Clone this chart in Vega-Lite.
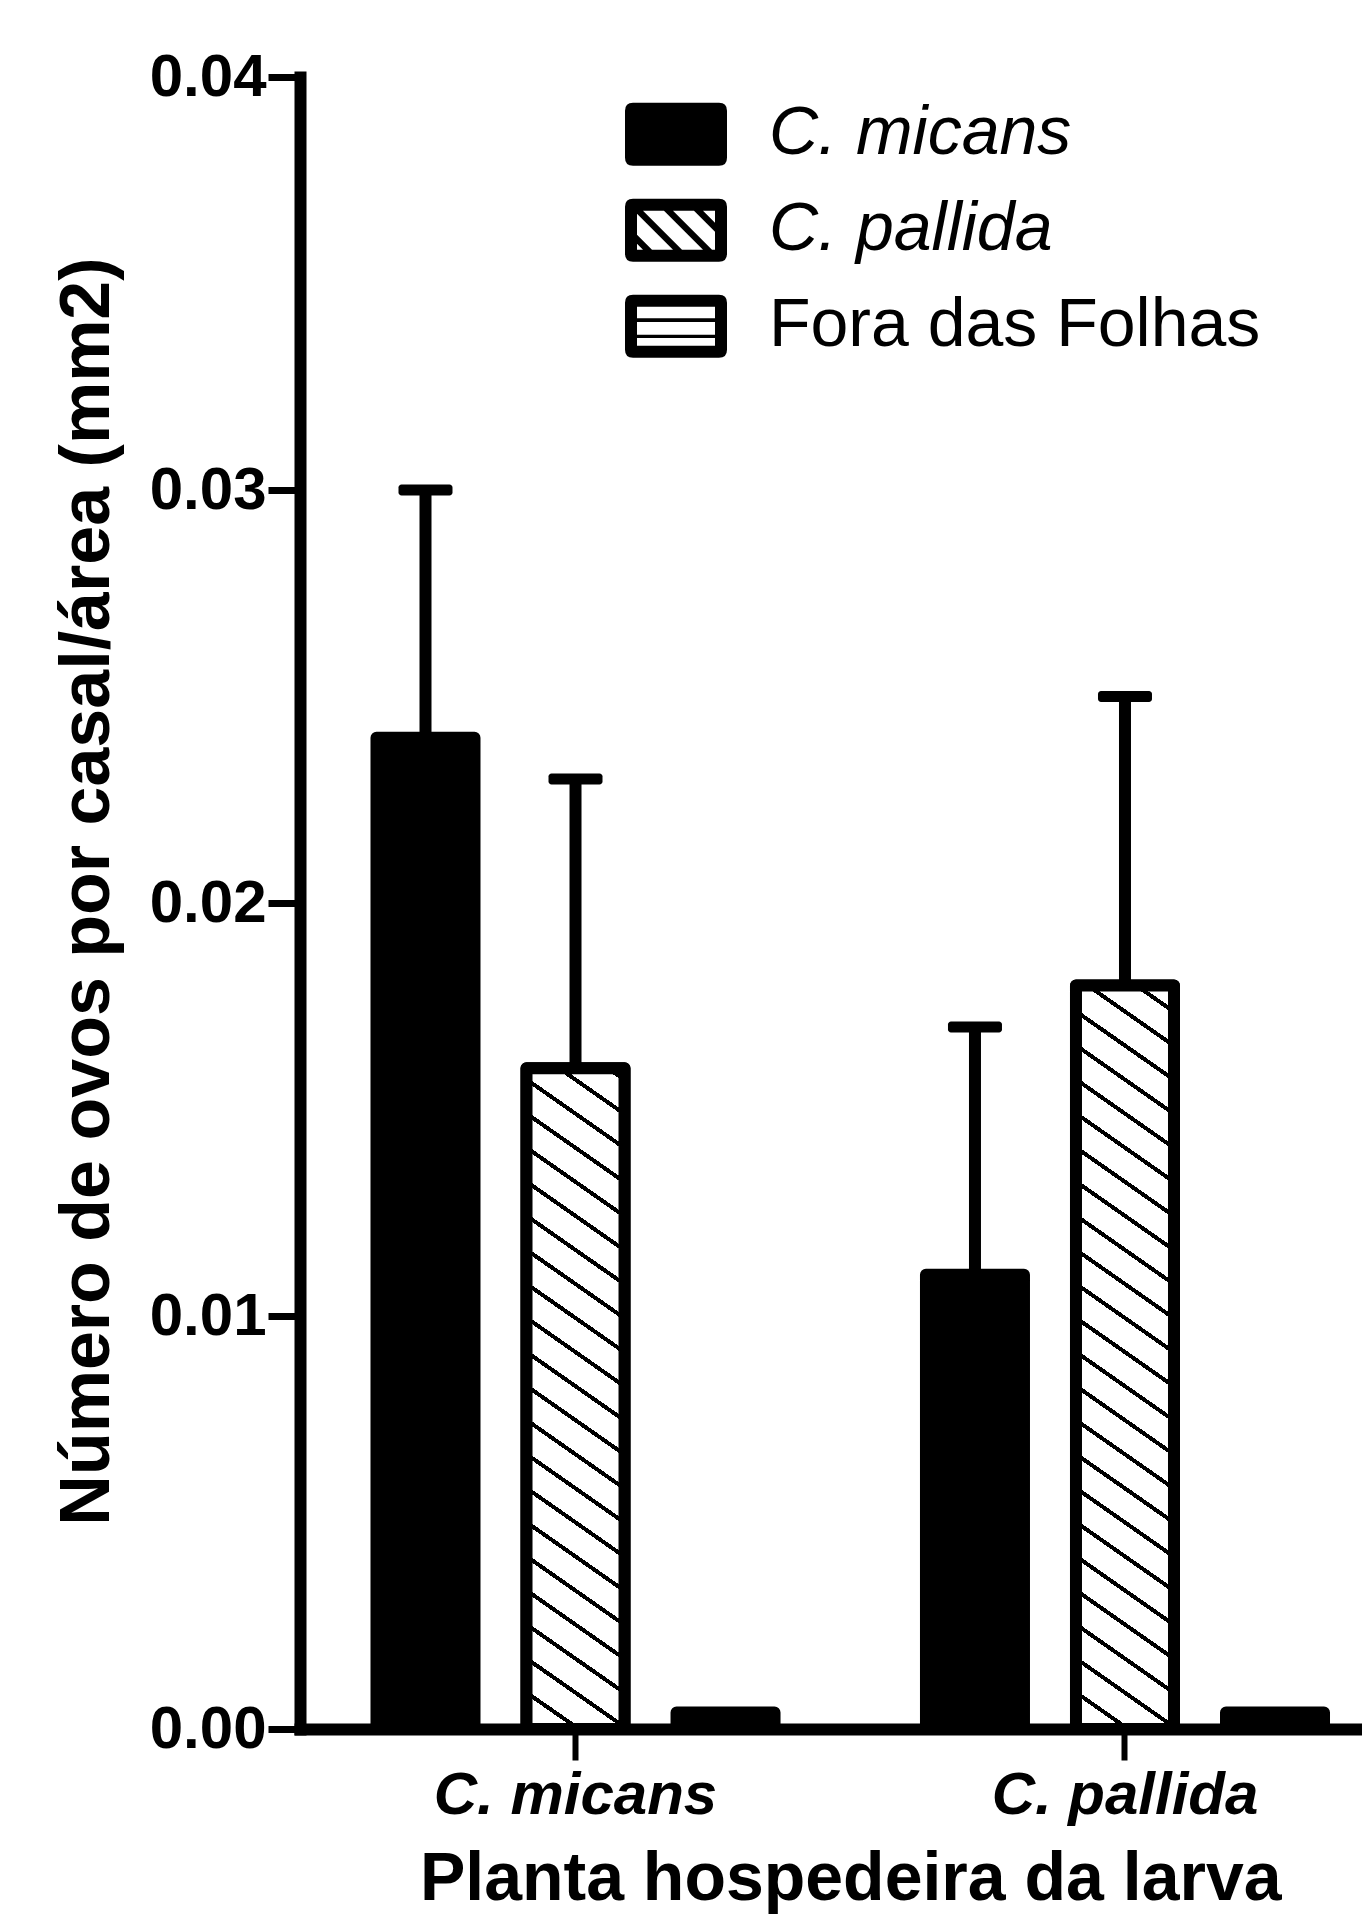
{
  "$schema": "https://vega.github.io/schema/vega-lite/v6.json",
  "width": 1062,
  "height": 1652,
  "autosize": {"type": "none"},
  "padding": {"left": 300, "top": 77, "right": 0, "bottom": 185},
  "background": "white",
  "config": {"view": {"stroke": null}, "font": "Liberation Sans"},
  "data": {
    "values": [
      {"planta": "C. micans", "local": "C. micans", "valor": 0.024, "upper": 0.030},
      {"planta": "C. micans", "local": "C. pallida", "valor": 0.016, "upper": 0.023},
      {"planta": "C. micans", "local": "Fora das Folhas", "valor": 0.0004, "upper": null},
      {"planta": "C. pallida", "local": "C. micans", "valor": 0.011, "upper": 0.017},
      {"planta": "C. pallida", "local": "C. pallida", "valor": 0.018, "upper": 0.025},
      {"planta": "C. pallida", "local": "Fora das Folhas", "valor": 0.0004, "upper": null}
    ]
  },
  "encoding": {
    "x": {
      "field": "planta",
      "type": "nominal",
      "sort": ["C. micans", "C. pallida"],
      "scale": {"range": [0, 1100.5], "paddingInner": 0.181, "paddingOuter": 0.0919},
      "axis": {
        "title": "Planta hospedeira da larva",
        "domainWidth": 12, "domainColor": "black", "domainCap": "square",
        "tickSize": 31, "tickWidth": 6, "tickColor": "black",
        "labelFont": "Liberation Sans", "labelFontSize": 60, "labelFontWeight": "bold", "labelFontStyle": "italic",
        "labelColor": "black", "labelPadding": 6, "labelAngle": 0, "labelLimit": 0,
        "titleFont": "Liberation Sans", "titleFontSize": 68, "titleFontWeight": "bold", "titleColor": "black", "titlePadding": 20
      }
    },
    "xOffset": {
      "field": "local",
      "type": "nominal",
      "sort": ["C. micans", "C. pallida", "Fora das Folhas"],
      "scale": {"paddingInner": 0.3467, "paddingOuter": 0.1733}
    },
    "y": {
      "field": "valor",
      "type": "quantitative",
      "scale": {"domain": [0, 0.04], "nice": false},
      "axis": {
        "title": "Número de ovos por casal/área (mm2)",
        "values": [0, 0.01, 0.02, 0.03, 0.04], "format": ".2f", "grid": false,
        "domainWidth": 12, "domainColor": "black", "domainCap": "square",
        "tickSize": 32, "tickWidth": 7, "tickColor": "black",
        "labelFont": "Liberation Sans", "labelFontSize": 60, "labelFontWeight": "bold", "labelColor": "black", "labelPadding": 2,
        "titleFont": "Liberation Sans", "titleFontSize": 70, "titleFontWeight": "bold", "titleColor": "black", "titlePadding": 26,
        "titleY": 814
      }
    }
  },
  "layer": [
    {
      "mark": {"type": "bar", "stroke": "black", "strokeWidth": 12, "strokeJoin": "round", "fill": "black"}
    },
    {
      "transform": [{"filter": "datum.planta == 'C. micans' && datum.local == 'C. pallida'"}],
      "mark": {
        "type": "bar", "stroke": "black", "strokeWidth": 12, "strokeJoin": "round",
        "fill": {
          "gradient": "linear", "x1": 0, "y1": 1, "x2": 0.127, "y2": -0.2238,
          "stops": [
            {"offset": 0, "color": "black"}, {"offset": 0.006, "color": "black"}, {"offset": 0.006, "color": "white"}, {"offset": 0.0417, "color": "white"},
            {"offset": 0.0417, "color": "black"}, {"offset": 0.0477, "color": "black"}, {"offset": 0.0477, "color": "white"}, {"offset": 0.0833, "color": "white"},
            {"offset": 0.0833, "color": "black"}, {"offset": 0.0893, "color": "black"}, {"offset": 0.0893, "color": "white"}, {"offset": 0.125, "color": "white"},
            {"offset": 0.125, "color": "black"}, {"offset": 0.131, "color": "black"}, {"offset": 0.131, "color": "white"}, {"offset": 0.1667, "color": "white"},
            {"offset": 0.1667, "color": "black"}, {"offset": 0.1727, "color": "black"}, {"offset": 0.1727, "color": "white"}, {"offset": 0.2083, "color": "white"},
            {"offset": 0.2083, "color": "black"}, {"offset": 0.2143, "color": "black"}, {"offset": 0.2143, "color": "white"}, {"offset": 0.25, "color": "white"},
            {"offset": 0.25, "color": "black"}, {"offset": 0.256, "color": "black"}, {"offset": 0.256, "color": "white"}, {"offset": 0.2917, "color": "white"},
            {"offset": 0.2917, "color": "black"}, {"offset": 0.2977, "color": "black"}, {"offset": 0.2977, "color": "white"}, {"offset": 0.3333, "color": "white"},
            {"offset": 0.3333, "color": "black"}, {"offset": 0.3393, "color": "black"}, {"offset": 0.3393, "color": "white"}, {"offset": 0.375, "color": "white"},
            {"offset": 0.375, "color": "black"}, {"offset": 0.381, "color": "black"}, {"offset": 0.381, "color": "white"}, {"offset": 0.4167, "color": "white"},
            {"offset": 0.4167, "color": "black"}, {"offset": 0.4227, "color": "black"}, {"offset": 0.4227, "color": "white"}, {"offset": 0.4583, "color": "white"},
            {"offset": 0.4583, "color": "black"}, {"offset": 0.4643, "color": "black"}, {"offset": 0.4643, "color": "white"}, {"offset": 0.5, "color": "white"},
            {"offset": 0.5, "color": "black"}, {"offset": 0.506, "color": "black"}, {"offset": 0.506, "color": "white"}, {"offset": 0.5417, "color": "white"},
            {"offset": 0.5417, "color": "black"}, {"offset": 0.5477, "color": "black"}, {"offset": 0.5477, "color": "white"}, {"offset": 0.5833, "color": "white"},
            {"offset": 0.5833, "color": "black"}, {"offset": 0.5893, "color": "black"}, {"offset": 0.5893, "color": "white"}, {"offset": 0.625, "color": "white"},
            {"offset": 0.625, "color": "black"}, {"offset": 0.631, "color": "black"}, {"offset": 0.631, "color": "white"}, {"offset": 0.6667, "color": "white"},
            {"offset": 0.6667, "color": "black"}, {"offset": 0.6727, "color": "black"}, {"offset": 0.6727, "color": "white"}, {"offset": 0.7083, "color": "white"},
            {"offset": 0.7083, "color": "black"}, {"offset": 0.7143, "color": "black"}, {"offset": 0.7143, "color": "white"}, {"offset": 0.75, "color": "white"},
            {"offset": 0.75, "color": "black"}, {"offset": 0.756, "color": "black"}, {"offset": 0.756, "color": "white"}, {"offset": 0.7917, "color": "white"},
            {"offset": 0.7917, "color": "black"}, {"offset": 0.7977, "color": "black"}, {"offset": 0.7977, "color": "white"}, {"offset": 0.8333, "color": "white"},
            {"offset": 0.8333, "color": "black"}, {"offset": 0.8393, "color": "black"}, {"offset": 0.8393, "color": "white"}, {"offset": 0.875, "color": "white"},
            {"offset": 0.875, "color": "black"}, {"offset": 0.881, "color": "black"}, {"offset": 0.881, "color": "white"}, {"offset": 0.9167, "color": "white"},
            {"offset": 0.9167, "color": "black"}, {"offset": 0.9227, "color": "black"}, {"offset": 0.9227, "color": "white"}, {"offset": 0.9583, "color": "white"},
            {"offset": 0.9583, "color": "black"}, {"offset": 0.9643, "color": "black"}, {"offset": 0.9643, "color": "white"}, {"offset": 1, "color": "white"}
          ]
        }
      }
    },
    {
      "transform": [{"filter": "datum.planta == 'C. pallida' && datum.local == 'C. pallida'"}],
      "mark": {
        "type": "bar", "stroke": "black", "strokeWidth": 12, "strokeJoin": "round",
        "fill": {
          "gradient": "linear", "x1": 0, "y1": 1, "x2": 0.1006, "y2": -0.0903,
          "stops": [
            {"offset": 0, "color": "black"}, {"offset": 0.006, "color": "black"}, {"offset": 0.006, "color": "white"}, {"offset": 0.0417, "color": "white"},
            {"offset": 0.0417, "color": "black"}, {"offset": 0.0477, "color": "black"}, {"offset": 0.0477, "color": "white"}, {"offset": 0.0833, "color": "white"},
            {"offset": 0.0833, "color": "black"}, {"offset": 0.0893, "color": "black"}, {"offset": 0.0893, "color": "white"}, {"offset": 0.125, "color": "white"},
            {"offset": 0.125, "color": "black"}, {"offset": 0.131, "color": "black"}, {"offset": 0.131, "color": "white"}, {"offset": 0.1667, "color": "white"},
            {"offset": 0.1667, "color": "black"}, {"offset": 0.1727, "color": "black"}, {"offset": 0.1727, "color": "white"}, {"offset": 0.2083, "color": "white"},
            {"offset": 0.2083, "color": "black"}, {"offset": 0.2143, "color": "black"}, {"offset": 0.2143, "color": "white"}, {"offset": 0.25, "color": "white"},
            {"offset": 0.25, "color": "black"}, {"offset": 0.256, "color": "black"}, {"offset": 0.256, "color": "white"}, {"offset": 0.2917, "color": "white"},
            {"offset": 0.2917, "color": "black"}, {"offset": 0.2977, "color": "black"}, {"offset": 0.2977, "color": "white"}, {"offset": 0.3333, "color": "white"},
            {"offset": 0.3333, "color": "black"}, {"offset": 0.3393, "color": "black"}, {"offset": 0.3393, "color": "white"}, {"offset": 0.375, "color": "white"},
            {"offset": 0.375, "color": "black"}, {"offset": 0.381, "color": "black"}, {"offset": 0.381, "color": "white"}, {"offset": 0.4167, "color": "white"},
            {"offset": 0.4167, "color": "black"}, {"offset": 0.4227, "color": "black"}, {"offset": 0.4227, "color": "white"}, {"offset": 0.4583, "color": "white"},
            {"offset": 0.4583, "color": "black"}, {"offset": 0.4643, "color": "black"}, {"offset": 0.4643, "color": "white"}, {"offset": 0.5, "color": "white"},
            {"offset": 0.5, "color": "black"}, {"offset": 0.506, "color": "black"}, {"offset": 0.506, "color": "white"}, {"offset": 0.5417, "color": "white"},
            {"offset": 0.5417, "color": "black"}, {"offset": 0.5477, "color": "black"}, {"offset": 0.5477, "color": "white"}, {"offset": 0.5833, "color": "white"},
            {"offset": 0.5833, "color": "black"}, {"offset": 0.5893, "color": "black"}, {"offset": 0.5893, "color": "white"}, {"offset": 0.625, "color": "white"},
            {"offset": 0.625, "color": "black"}, {"offset": 0.631, "color": "black"}, {"offset": 0.631, "color": "white"}, {"offset": 0.6667, "color": "white"},
            {"offset": 0.6667, "color": "black"}, {"offset": 0.6727, "color": "black"}, {"offset": 0.6727, "color": "white"}, {"offset": 0.7083, "color": "white"},
            {"offset": 0.7083, "color": "black"}, {"offset": 0.7143, "color": "black"}, {"offset": 0.7143, "color": "white"}, {"offset": 0.75, "color": "white"},
            {"offset": 0.75, "color": "black"}, {"offset": 0.756, "color": "black"}, {"offset": 0.756, "color": "white"}, {"offset": 0.7917, "color": "white"},
            {"offset": 0.7917, "color": "black"}, {"offset": 0.7977, "color": "black"}, {"offset": 0.7977, "color": "white"}, {"offset": 0.8333, "color": "white"},
            {"offset": 0.8333, "color": "black"}, {"offset": 0.8393, "color": "black"}, {"offset": 0.8393, "color": "white"}, {"offset": 0.875, "color": "white"},
            {"offset": 0.875, "color": "black"}, {"offset": 0.881, "color": "black"}, {"offset": 0.881, "color": "white"}, {"offset": 0.9167, "color": "white"},
            {"offset": 0.9167, "color": "black"}, {"offset": 0.9227, "color": "black"}, {"offset": 0.9227, "color": "white"}, {"offset": 0.9583, "color": "white"},
            {"offset": 0.9583, "color": "black"}, {"offset": 0.9643, "color": "black"}, {"offset": 0.9643, "color": "white"}, {"offset": 1, "color": "white"}
          ]
        }
      }
    },
    {
      "transform": [{"filter": "datum.upper != null"}],
      "mark": {"type": "rule", "strokeWidth": 12, "color": "black", "strokeCap": "butt"},
      "encoding": {
        "y": {"field": "valor", "type": "quantitative"},
        "y2": {"field": "upper"}
      }
    },
    {
      "transform": [{"filter": "datum.upper != null"}],
      "mark": {"type": "tick", "thickness": 11, "size": 54, "color": "black", "opacity": 1, "cornerRadius": 3},
      "encoding": {
        "y": {"field": "upper", "type": "quantitative"}
      }
    },
    {
      "mark": {"type": "point", "filled": true, "fill": "black", "strokeWidth": 0, "opacity": 0},
      "encoding": {
        "shape": {
          "field": "local",
          "type": "nominal",
          "sort": ["C. micans", "C. pallida", "Fora das Folhas"],
          "scale": {
            "domain": ["C. micans", "C. pallida", "Fora das Folhas"],
            "range": [
              "M-1.433,-1.05H1.433Q1.7,-1.05 1.7,-0.783V0.783Q1.7,1.05 1.433,1.05H-1.433Q-1.7,1.05 -1.7,0.783V-0.783Q-1.7,-1.05 -1.433,-1.05Z",
              "M-1.433,-1.05H1.433Q1.7,-1.05 1.7,-0.783V0.783Q1.7,1.05 1.433,1.05H-1.433Q-1.7,1.05 -1.7,0.783V-0.783Q-1.7,-1.05 -1.433,-1.05Z M-1.3,-0.65V0.65H1.3V-0.65Z M-1.1,-0.65L0.2,0.65L-0.1,0.65L-1.3,-0.55L-1.3,-0.65Z M-0.1,-0.65L1.2,0.65L0.9,0.65L-0.4,-0.65Z M0.9,-0.65L1.3,-0.25L1.3,0.05L0.6,-0.65Z M-1.3,0.15L-0.8,0.65L-1.1,0.65L-1.3,0.45Z",
              "M-1.433,-1.05H1.433Q1.7,-1.05 1.7,-0.783V0.783Q1.7,1.05 1.433,1.05H-1.433Q-1.7,1.05 -1.7,0.783V-0.783Q-1.7,-1.05 -1.433,-1.05Z M-1.3,-0.65V0.65H1.3V-0.65Z M-1.3,-0.27H1.3V-0.14H-1.3Z M-1.3,0.28H1.3V0.39H-1.3Z"
            ]
          },
          "legend": {
            "orient": "none", "legendX": 342, "legendY": 23.25, "title": null, "padding": 0,
            "symbolSize": 3600, "symbolOpacity": 1,
            "symbolFillColor": "black", "symbolStrokeColor": "transparent", "symbolStrokeWidth": 0,
            "labelFont": "Liberation Sans", "labelFontSize": 68, "labelColor": "black",
            "labelFontStyle": {"expr": "datum.label == 'Fora das Folhas' ? 'normal' : 'italic'"},
            "labelOffset": 59, "labelLimit": 0, "rowPadding": 28
          }
        }
      }
    }
  ]
}
